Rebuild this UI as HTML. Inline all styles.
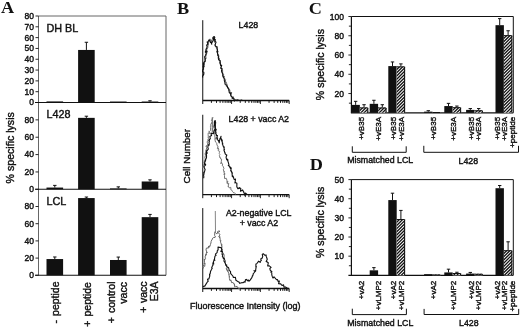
<!DOCTYPE html>
<html><head><meta charset="utf-8"><style>
html,body{margin:0;padding:0;background:#fff;overflow:hidden;width:520px;height:328px;}
svg{display:block;filter:blur(0.3px);}
</style></head><body>
<svg width="520" height="328" viewBox="0 0 520 328">
<rect x="0" y="0" width="520" height="328" fill="#fff"/>
<text transform="translate(1.00,12.60) scale(1.1,1)" font-size="16.6" style="font-family:'Liberation Serif',serif" font-weight="bold" fill="#111">A</text>
<text transform="translate(177.00,13.80) scale(1.1,1)" font-size="16.6" style="font-family:'Liberation Serif',serif" font-weight="bold" fill="#111">B</text>
<text transform="translate(308.70,13.70) scale(1.1,1)" font-size="16.6" style="font-family:'Liberation Serif',serif" font-weight="bold" fill="#111">C</text>
<text transform="translate(309.70,170.40) scale(1.1,1)" font-size="16.6" style="font-family:'Liberation Serif',serif" font-weight="bold" fill="#111">D</text>
<line x1="38.50" y1="16.00" x2="166.00" y2="16.00" stroke="#666" stroke-width="1.0"/>
<line x1="38.50" y1="16.00" x2="38.50" y2="275.30" stroke="#666" stroke-width="1.0"/>
<line x1="166.00" y1="16.00" x2="166.00" y2="275.30" stroke="#666" stroke-width="1.0"/>
<line x1="35.00" y1="102.50" x2="166.00" y2="102.50" stroke="#111" stroke-width="1.1"/>
<line x1="35.00" y1="189.30" x2="166.00" y2="189.30" stroke="#111" stroke-width="1.1"/>
<line x1="35.00" y1="275.30" x2="166.00" y2="275.30" stroke="#111" stroke-width="1.1"/>
<line x1="35.50" y1="102.50" x2="38.50" y2="102.50" stroke="#111" stroke-width="0.9"/>
<text x="34.00" y="105.40" font-size="8.5" text-anchor="end" style="font-family:'Liberation Sans',sans-serif" fill="#111" stroke="#111" stroke-width="0.4">0</text>
<line x1="35.50" y1="91.69" x2="38.50" y2="91.69" stroke="#111" stroke-width="0.9"/>
<text x="34.00" y="94.59" font-size="8.5" text-anchor="end" style="font-family:'Liberation Sans',sans-serif" fill="#111" stroke="#111" stroke-width="0.4">10</text>
<line x1="35.50" y1="80.88" x2="38.50" y2="80.88" stroke="#111" stroke-width="0.9"/>
<text x="34.00" y="83.78" font-size="8.5" text-anchor="end" style="font-family:'Liberation Sans',sans-serif" fill="#111" stroke="#111" stroke-width="0.4">20</text>
<line x1="35.50" y1="70.06" x2="38.50" y2="70.06" stroke="#111" stroke-width="0.9"/>
<text x="34.00" y="72.96" font-size="8.5" text-anchor="end" style="font-family:'Liberation Sans',sans-serif" fill="#111" stroke="#111" stroke-width="0.4">30</text>
<line x1="35.50" y1="59.25" x2="38.50" y2="59.25" stroke="#111" stroke-width="0.9"/>
<text x="34.00" y="62.15" font-size="8.5" text-anchor="end" style="font-family:'Liberation Sans',sans-serif" fill="#111" stroke="#111" stroke-width="0.4">40</text>
<line x1="35.50" y1="48.44" x2="38.50" y2="48.44" stroke="#111" stroke-width="0.9"/>
<text x="34.00" y="51.34" font-size="8.5" text-anchor="end" style="font-family:'Liberation Sans',sans-serif" fill="#111" stroke="#111" stroke-width="0.4">50</text>
<line x1="35.50" y1="37.62" x2="38.50" y2="37.62" stroke="#111" stroke-width="0.9"/>
<text x="34.00" y="40.52" font-size="8.5" text-anchor="end" style="font-family:'Liberation Sans',sans-serif" fill="#111" stroke="#111" stroke-width="0.4">60</text>
<line x1="35.50" y1="26.81" x2="38.50" y2="26.81" stroke="#111" stroke-width="0.9"/>
<text x="34.00" y="29.71" font-size="8.5" text-anchor="end" style="font-family:'Liberation Sans',sans-serif" fill="#111" stroke="#111" stroke-width="0.4">70</text>
<line x1="35.50" y1="16.00" x2="38.50" y2="16.00" stroke="#111" stroke-width="0.9"/>
<text x="34.00" y="18.90" font-size="8.5" text-anchor="end" style="font-family:'Liberation Sans',sans-serif" fill="#111" stroke="#111" stroke-width="0.4">80</text>
<line x1="35.50" y1="189.30" x2="38.50" y2="189.30" stroke="#111" stroke-width="0.9"/>
<text x="34.00" y="192.20" font-size="8.5" text-anchor="end" style="font-family:'Liberation Sans',sans-serif" fill="#111" stroke="#111" stroke-width="0.4">0</text>
<line x1="35.50" y1="171.94" x2="38.50" y2="171.94" stroke="#111" stroke-width="0.9"/>
<text x="34.00" y="174.84" font-size="8.5" text-anchor="end" style="font-family:'Liberation Sans',sans-serif" fill="#111" stroke="#111" stroke-width="0.4">20</text>
<line x1="35.50" y1="154.58" x2="38.50" y2="154.58" stroke="#111" stroke-width="0.9"/>
<text x="34.00" y="157.48" font-size="8.5" text-anchor="end" style="font-family:'Liberation Sans',sans-serif" fill="#111" stroke="#111" stroke-width="0.4">40</text>
<line x1="35.50" y1="137.22" x2="38.50" y2="137.22" stroke="#111" stroke-width="0.9"/>
<text x="34.00" y="140.12" font-size="8.5" text-anchor="end" style="font-family:'Liberation Sans',sans-serif" fill="#111" stroke="#111" stroke-width="0.4">60</text>
<line x1="35.50" y1="119.86" x2="38.50" y2="119.86" stroke="#111" stroke-width="0.9"/>
<text x="34.00" y="122.76" font-size="8.5" text-anchor="end" style="font-family:'Liberation Sans',sans-serif" fill="#111" stroke="#111" stroke-width="0.4">80</text>
<line x1="35.50" y1="275.30" x2="38.50" y2="275.30" stroke="#111" stroke-width="0.9"/>
<text x="34.00" y="278.20" font-size="8.5" text-anchor="end" style="font-family:'Liberation Sans',sans-serif" fill="#111" stroke="#111" stroke-width="0.4">0</text>
<line x1="35.50" y1="258.10" x2="38.50" y2="258.10" stroke="#111" stroke-width="0.9"/>
<text x="34.00" y="261.00" font-size="8.5" text-anchor="end" style="font-family:'Liberation Sans',sans-serif" fill="#111" stroke="#111" stroke-width="0.4">20</text>
<line x1="35.50" y1="240.90" x2="38.50" y2="240.90" stroke="#111" stroke-width="0.9"/>
<text x="34.00" y="243.80" font-size="8.5" text-anchor="end" style="font-family:'Liberation Sans',sans-serif" fill="#111" stroke="#111" stroke-width="0.4">40</text>
<line x1="35.50" y1="223.70" x2="38.50" y2="223.70" stroke="#111" stroke-width="0.9"/>
<text x="34.00" y="226.60" font-size="8.5" text-anchor="end" style="font-family:'Liberation Sans',sans-serif" fill="#111" stroke="#111" stroke-width="0.4">60</text>
<line x1="35.50" y1="206.50" x2="38.50" y2="206.50" stroke="#111" stroke-width="0.9"/>
<text x="34.00" y="209.40" font-size="8.5" text-anchor="end" style="font-family:'Liberation Sans',sans-serif" fill="#111" stroke="#111" stroke-width="0.4">80</text>
<rect x="46.50" y="101.42" width="16.60" height="1.08" fill="#111"/>
<rect x="78.10" y="49.95" width="16.60" height="52.55" fill="#111"/>
<line x1="86.40" y1="49.95" x2="86.40" y2="42.27" stroke="#111" stroke-width="1.0"/>
<line x1="84.70" y1="42.27" x2="88.10" y2="42.27" stroke="#111" stroke-width="1.0"/>
<rect x="110.00" y="101.53" width="16.60" height="0.97" fill="#111"/>
<rect x="141.70" y="101.53" width="16.60" height="0.97" fill="#111"/>
<line x1="150.00" y1="101.53" x2="150.00" y2="100.77" stroke="#111" stroke-width="1.0"/>
<line x1="148.30" y1="100.77" x2="151.70" y2="100.77" stroke="#111" stroke-width="1.0"/>
<rect x="46.50" y="187.56" width="16.60" height="1.74" fill="#111"/>
<line x1="54.80" y1="187.56" x2="54.80" y2="185.39" stroke="#111" stroke-width="1.0"/>
<line x1="53.10" y1="185.39" x2="56.50" y2="185.39" stroke="#111" stroke-width="1.0"/>
<rect x="78.10" y="117.86" width="16.60" height="71.44" fill="#111"/>
<line x1="86.40" y1="117.86" x2="86.40" y2="116.21" stroke="#111" stroke-width="1.0"/>
<line x1="84.70" y1="116.21" x2="88.10" y2="116.21" stroke="#111" stroke-width="1.0"/>
<rect x="110.00" y="188.43" width="16.60" height="0.87" fill="#111"/>
<line x1="118.30" y1="188.43" x2="118.30" y2="186.87" stroke="#111" stroke-width="1.0"/>
<line x1="116.60" y1="186.87" x2="120.00" y2="186.87" stroke="#111" stroke-width="1.0"/>
<rect x="141.70" y="181.49" width="16.60" height="7.81" fill="#111"/>
<line x1="150.00" y1="181.49" x2="150.00" y2="179.84" stroke="#111" stroke-width="1.0"/>
<line x1="148.30" y1="179.84" x2="151.70" y2="179.84" stroke="#111" stroke-width="1.0"/>
<rect x="46.50" y="259.05" width="16.60" height="16.25" fill="#111"/>
<line x1="54.80" y1="259.05" x2="54.80" y2="256.98" stroke="#111" stroke-width="1.0"/>
<line x1="53.10" y1="256.98" x2="56.50" y2="256.98" stroke="#111" stroke-width="1.0"/>
<rect x="78.10" y="198.07" width="16.60" height="77.23" fill="#111"/>
<line x1="86.40" y1="198.07" x2="86.40" y2="197.04" stroke="#111" stroke-width="1.0"/>
<line x1="84.70" y1="197.04" x2="88.10" y2="197.04" stroke="#111" stroke-width="1.0"/>
<rect x="110.00" y="259.99" width="16.60" height="15.31" fill="#111"/>
<line x1="118.30" y1="259.99" x2="118.30" y2="257.07" stroke="#111" stroke-width="1.0"/>
<line x1="116.60" y1="257.07" x2="120.00" y2="257.07" stroke="#111" stroke-width="1.0"/>
<rect x="141.70" y="217.16" width="16.60" height="58.14" fill="#111"/>
<line x1="150.00" y1="217.16" x2="150.00" y2="214.41" stroke="#111" stroke-width="1.0"/>
<line x1="148.30" y1="214.41" x2="151.70" y2="214.41" stroke="#111" stroke-width="1.0"/>
<text x="46.50" y="31.50" font-size="10.8" text-anchor="start" style="font-family:'Liberation Sans',sans-serif" fill="#111" stroke="#111" stroke-width="0.4">DH BL</text>
<text x="46.50" y="118.20" font-size="10.8" text-anchor="start" style="font-family:'Liberation Sans',sans-serif" fill="#111" stroke="#111" stroke-width="0.4">L428</text>
<text x="46.50" y="204.90" font-size="10.8" text-anchor="start" style="font-family:'Liberation Sans',sans-serif" fill="#111" stroke="#111" stroke-width="0.4">LCL</text>
<text transform="translate(59.20,281.50) rotate(-90)" font-size="10.5" text-anchor="end" style="font-family:'Liberation Sans',sans-serif" fill="#111" stroke="#111" stroke-width="0.4" word-spacing="1.2">- peptide</text>
<text transform="translate(91.20,282.10) rotate(-90)" font-size="10.5" text-anchor="end" style="font-family:'Liberation Sans',sans-serif" fill="#111" stroke="#111" stroke-width="0.4" word-spacing="1.2">+ peptide</text>
<text transform="translate(114.80,281.50) rotate(-90)" font-size="10.5" text-anchor="end" style="font-family:'Liberation Sans',sans-serif" fill="#111" stroke="#111" stroke-width="0.4" word-spacing="1.2">+ control</text>
<text transform="translate(126.60,282.10) rotate(-90)" font-size="10.5" text-anchor="end" style="font-family:'Liberation Sans',sans-serif" fill="#111" stroke="#111" stroke-width="0.4">vacc</text>
<text transform="translate(147.00,281.50) rotate(-90)" font-size="10.5" text-anchor="end" style="font-family:'Liberation Sans',sans-serif" fill="#111" stroke="#111" stroke-width="0.4" word-spacing="0.6">+ vacc</text>
<text transform="translate(158.30,281.50) rotate(-90)" font-size="10.5" text-anchor="end" style="font-family:'Liberation Sans',sans-serif" fill="#111" stroke="#111" stroke-width="0.4">E3A</text>
<text transform="translate(13.70,147.80) rotate(-90)" font-size="10.6" text-anchor="middle" style="font-family:'Liberation Sans',sans-serif" fill="#111" stroke="#111" stroke-width="0.4">% specific lysis</text>
<line x1="202.75" y1="20.20" x2="202.75" y2="104.00" stroke="#111" stroke-width="1.0"/>
<line x1="202.75" y1="100.50" x2="289.20" y2="100.50" stroke="#111" stroke-width="1.3"/>
<line x1="211.42" y1="100.50" x2="211.42" y2="102.90" stroke="#111" stroke-width="0.95"/>
<line x1="216.50" y1="100.50" x2="216.50" y2="102.90" stroke="#111" stroke-width="0.95"/>
<line x1="220.10" y1="100.50" x2="220.10" y2="102.90" stroke="#111" stroke-width="0.95"/>
<line x1="222.89" y1="100.50" x2="222.89" y2="102.90" stroke="#111" stroke-width="0.95"/>
<line x1="225.17" y1="100.50" x2="225.17" y2="102.90" stroke="#111" stroke-width="0.95"/>
<line x1="227.10" y1="100.50" x2="227.10" y2="102.90" stroke="#111" stroke-width="0.95"/>
<line x1="228.77" y1="100.50" x2="228.77" y2="102.90" stroke="#111" stroke-width="0.95"/>
<line x1="230.25" y1="100.50" x2="230.25" y2="102.90" stroke="#111" stroke-width="0.95"/>
<line x1="231.57" y1="100.50" x2="231.57" y2="104.00" stroke="#111" stroke-width="0.9"/>
<line x1="240.24" y1="100.50" x2="240.24" y2="102.90" stroke="#111" stroke-width="0.95"/>
<line x1="245.32" y1="100.50" x2="245.32" y2="102.90" stroke="#111" stroke-width="0.95"/>
<line x1="248.92" y1="100.50" x2="248.92" y2="102.90" stroke="#111" stroke-width="0.95"/>
<line x1="251.71" y1="100.50" x2="251.71" y2="102.90" stroke="#111" stroke-width="0.95"/>
<line x1="253.99" y1="100.50" x2="253.99" y2="102.90" stroke="#111" stroke-width="0.95"/>
<line x1="255.92" y1="100.50" x2="255.92" y2="102.90" stroke="#111" stroke-width="0.95"/>
<line x1="257.59" y1="100.50" x2="257.59" y2="102.90" stroke="#111" stroke-width="0.95"/>
<line x1="259.06" y1="100.50" x2="259.06" y2="102.90" stroke="#111" stroke-width="0.95"/>
<line x1="260.38" y1="100.50" x2="260.38" y2="104.00" stroke="#111" stroke-width="0.9"/>
<line x1="269.06" y1="100.50" x2="269.06" y2="102.90" stroke="#111" stroke-width="0.95"/>
<line x1="274.13" y1="100.50" x2="274.13" y2="102.90" stroke="#111" stroke-width="0.95"/>
<line x1="277.73" y1="100.50" x2="277.73" y2="102.90" stroke="#111" stroke-width="0.95"/>
<line x1="280.53" y1="100.50" x2="280.53" y2="102.90" stroke="#111" stroke-width="0.95"/>
<line x1="282.81" y1="100.50" x2="282.81" y2="102.90" stroke="#111" stroke-width="0.95"/>
<line x1="284.74" y1="100.50" x2="284.74" y2="102.90" stroke="#111" stroke-width="0.95"/>
<line x1="286.41" y1="100.50" x2="286.41" y2="102.90" stroke="#111" stroke-width="0.95"/>
<line x1="287.88" y1="100.50" x2="287.88" y2="102.90" stroke="#111" stroke-width="0.95"/>
<line x1="289.20" y1="100.50" x2="289.20" y2="104.00" stroke="#111" stroke-width="0.9"/>
<line x1="202.75" y1="114.75" x2="202.75" y2="198.20" stroke="#111" stroke-width="1.0"/>
<line x1="202.75" y1="194.70" x2="289.20" y2="194.70" stroke="#111" stroke-width="1.3"/>
<line x1="211.42" y1="194.70" x2="211.42" y2="197.10" stroke="#111" stroke-width="0.95"/>
<line x1="216.50" y1="194.70" x2="216.50" y2="197.10" stroke="#111" stroke-width="0.95"/>
<line x1="220.10" y1="194.70" x2="220.10" y2="197.10" stroke="#111" stroke-width="0.95"/>
<line x1="222.89" y1="194.70" x2="222.89" y2="197.10" stroke="#111" stroke-width="0.95"/>
<line x1="225.17" y1="194.70" x2="225.17" y2="197.10" stroke="#111" stroke-width="0.95"/>
<line x1="227.10" y1="194.70" x2="227.10" y2="197.10" stroke="#111" stroke-width="0.95"/>
<line x1="228.77" y1="194.70" x2="228.77" y2="197.10" stroke="#111" stroke-width="0.95"/>
<line x1="230.25" y1="194.70" x2="230.25" y2="197.10" stroke="#111" stroke-width="0.95"/>
<line x1="231.57" y1="194.70" x2="231.57" y2="198.20" stroke="#111" stroke-width="0.9"/>
<line x1="240.24" y1="194.70" x2="240.24" y2="197.10" stroke="#111" stroke-width="0.95"/>
<line x1="245.32" y1="194.70" x2="245.32" y2="197.10" stroke="#111" stroke-width="0.95"/>
<line x1="248.92" y1="194.70" x2="248.92" y2="197.10" stroke="#111" stroke-width="0.95"/>
<line x1="251.71" y1="194.70" x2="251.71" y2="197.10" stroke="#111" stroke-width="0.95"/>
<line x1="253.99" y1="194.70" x2="253.99" y2="197.10" stroke="#111" stroke-width="0.95"/>
<line x1="255.92" y1="194.70" x2="255.92" y2="197.10" stroke="#111" stroke-width="0.95"/>
<line x1="257.59" y1="194.70" x2="257.59" y2="197.10" stroke="#111" stroke-width="0.95"/>
<line x1="259.06" y1="194.70" x2="259.06" y2="197.10" stroke="#111" stroke-width="0.95"/>
<line x1="260.38" y1="194.70" x2="260.38" y2="198.20" stroke="#111" stroke-width="0.9"/>
<line x1="269.06" y1="194.70" x2="269.06" y2="197.10" stroke="#111" stroke-width="0.95"/>
<line x1="274.13" y1="194.70" x2="274.13" y2="197.10" stroke="#111" stroke-width="0.95"/>
<line x1="277.73" y1="194.70" x2="277.73" y2="197.10" stroke="#111" stroke-width="0.95"/>
<line x1="280.53" y1="194.70" x2="280.53" y2="197.10" stroke="#111" stroke-width="0.95"/>
<line x1="282.81" y1="194.70" x2="282.81" y2="197.10" stroke="#111" stroke-width="0.95"/>
<line x1="284.74" y1="194.70" x2="284.74" y2="197.10" stroke="#111" stroke-width="0.95"/>
<line x1="286.41" y1="194.70" x2="286.41" y2="197.10" stroke="#111" stroke-width="0.95"/>
<line x1="287.88" y1="194.70" x2="287.88" y2="197.10" stroke="#111" stroke-width="0.95"/>
<line x1="289.20" y1="194.70" x2="289.20" y2="198.20" stroke="#111" stroke-width="0.9"/>
<line x1="202.75" y1="208.10" x2="202.75" y2="292.00" stroke="#111" stroke-width="1.0"/>
<line x1="202.75" y1="288.50" x2="289.20" y2="288.50" stroke="#111" stroke-width="1.3"/>
<line x1="211.42" y1="288.50" x2="211.42" y2="290.90" stroke="#111" stroke-width="0.95"/>
<line x1="216.50" y1="288.50" x2="216.50" y2="290.90" stroke="#111" stroke-width="0.95"/>
<line x1="220.10" y1="288.50" x2="220.10" y2="290.90" stroke="#111" stroke-width="0.95"/>
<line x1="222.89" y1="288.50" x2="222.89" y2="290.90" stroke="#111" stroke-width="0.95"/>
<line x1="225.17" y1="288.50" x2="225.17" y2="290.90" stroke="#111" stroke-width="0.95"/>
<line x1="227.10" y1="288.50" x2="227.10" y2="290.90" stroke="#111" stroke-width="0.95"/>
<line x1="228.77" y1="288.50" x2="228.77" y2="290.90" stroke="#111" stroke-width="0.95"/>
<line x1="230.25" y1="288.50" x2="230.25" y2="290.90" stroke="#111" stroke-width="0.95"/>
<line x1="231.57" y1="288.50" x2="231.57" y2="292.00" stroke="#111" stroke-width="0.9"/>
<line x1="240.24" y1="288.50" x2="240.24" y2="290.90" stroke="#111" stroke-width="0.95"/>
<line x1="245.32" y1="288.50" x2="245.32" y2="290.90" stroke="#111" stroke-width="0.95"/>
<line x1="248.92" y1="288.50" x2="248.92" y2="290.90" stroke="#111" stroke-width="0.95"/>
<line x1="251.71" y1="288.50" x2="251.71" y2="290.90" stroke="#111" stroke-width="0.95"/>
<line x1="253.99" y1="288.50" x2="253.99" y2="290.90" stroke="#111" stroke-width="0.95"/>
<line x1="255.92" y1="288.50" x2="255.92" y2="290.90" stroke="#111" stroke-width="0.95"/>
<line x1="257.59" y1="288.50" x2="257.59" y2="290.90" stroke="#111" stroke-width="0.95"/>
<line x1="259.06" y1="288.50" x2="259.06" y2="290.90" stroke="#111" stroke-width="0.95"/>
<line x1="260.38" y1="288.50" x2="260.38" y2="292.00" stroke="#111" stroke-width="0.9"/>
<line x1="269.06" y1="288.50" x2="269.06" y2="290.90" stroke="#111" stroke-width="0.95"/>
<line x1="274.13" y1="288.50" x2="274.13" y2="290.90" stroke="#111" stroke-width="0.95"/>
<line x1="277.73" y1="288.50" x2="277.73" y2="290.90" stroke="#111" stroke-width="0.95"/>
<line x1="280.53" y1="288.50" x2="280.53" y2="290.90" stroke="#111" stroke-width="0.95"/>
<line x1="282.81" y1="288.50" x2="282.81" y2="290.90" stroke="#111" stroke-width="0.95"/>
<line x1="284.74" y1="288.50" x2="284.74" y2="290.90" stroke="#111" stroke-width="0.95"/>
<line x1="286.41" y1="288.50" x2="286.41" y2="290.90" stroke="#111" stroke-width="0.95"/>
<line x1="287.88" y1="288.50" x2="287.88" y2="290.90" stroke="#111" stroke-width="0.95"/>
<line x1="289.20" y1="288.50" x2="289.20" y2="292.00" stroke="#111" stroke-width="0.9"/>
<text x="248.40" y="27.80" font-size="8.8" text-anchor="middle" style="font-family:'Liberation Sans',sans-serif" fill="#111" stroke="#111" stroke-width="0.4">L428</text>
<text x="258.80" y="122.00" font-size="8.8" text-anchor="middle" style="font-family:'Liberation Sans',sans-serif" fill="#111" stroke="#111" stroke-width="0.4">L428 + vacc A2</text>
<text x="258.70" y="215.90" font-size="8.8" text-anchor="middle" style="font-family:'Liberation Sans',sans-serif" fill="#111" stroke="#111" stroke-width="0.4">A2-negative LCL</text>
<text x="258.90" y="226.40" font-size="8.8" text-anchor="middle" style="font-family:'Liberation Sans',sans-serif" fill="#111" stroke="#111" stroke-width="0.4">+ vacc A2</text>
<text transform="translate(189.80,156.20) rotate(-90)" font-size="9.8" text-anchor="middle" style="font-family:'Liberation Sans',sans-serif" fill="#111" stroke="#111" stroke-width="0.4">Cell Number</text>
<text x="190.00" y="308.60" font-size="9.0" text-anchor="start" style="font-family:'Liberation Sans',sans-serif" fill="#111" stroke="#111" stroke-width="0.4">Fluorescence Intensity (log)</text>
<polyline points="202.79,72.11 203.10,71.27 203.60,68.87 202.74,69.88 203.22,67.31 204.47,66.92 204.32,65.94 204.22,64.09 204.41,64.96 204.44,63.63 204.87,60.87 205.25,61.24 204.79,58.78 205.92,58.93 205.94,58.98 206.09,58.09 205.76,56.78 205.99,56.13 206.83,52.95 205.83,52.26 207.26,51.83 206.86,50.48 206.81,49.70 206.70,49.22 207.20,49.05 207.48,48.12 207.92,47.28 207.79,44.12 208.24,45.21 208.47,43.18 208.33,41.25 209.52,40.69 209.96,38.86 211.30,42.27 210.56,42.78 211.43,40.09 211.61,40.70 212.88,37.81 213.03,36.82 213.74,36.56 214.49,39.50 214.41,40.80 214.35,39.53 215.06,40.53 214.68,42.64 215.57,43.11 215.02,45.96 215.78,47.19 217.02,46.68 216.56,48.18 217.07,49.50 217.17,50.69 217.99,51.52 217.42,53.20 217.34,53.23 218.72,54.93 218.28,54.73 218.32,57.21 217.95,58.30 219.16,57.86 219.40,59.91 219.81,60.78 220.19,62.95 219.45,62.36 220.81,65.87 220.48,65.72 221.34,66.53 221.24,67.64 221.50,69.50 221.64,70.06 222.62,70.27 222.63,73.24 222.55,73.03 223.65,74.20 223.01,75.83 224.21,76.06 224.02,77.77 225.22,79.14 225.65,79.54 225.25,81.89 226.50,82.37 225.87,82.51 226.75,83.70 227.58,86.38 227.01,85.92 228.48,87.87 228.98,88.10 228.42,88.96 229.96,89.91 229.76,91.28 230.37,92.26 231.66,92.61 230.73,95.65 232.52,96.77 232.25,97.67 233.44,96.78 233.58,99.38 234.35,99.40 235.00,100.20" fill="none" stroke="#666" stroke-width="1.0" stroke-opacity="1.0" stroke-linejoin="round"/>
<polyline points="202.67,77.59 202.61,75.88 203.21,75.45 203.60,73.82 203.78,74.50 203.85,74.03 203.85,72.20 202.50,71.64 202.79,69.48 203.60,69.06 203.27,69.14 203.62,66.59 203.11,66.94 203.51,65.73 203.37,63.21 203.95,63.66 203.69,62.43 205.16,61.30 205.25,58.17 205.20,59.34 204.55,56.76 205.14,56.37 205.55,55.18 206.26,52.90 205.31,52.18 205.58,50.98 207.07,51.97 205.85,50.01 206.38,48.52 206.60,48.38 207.14,46.64 206.68,45.55 206.75,45.14 207.84,43.69 207.12,42.04 207.85,42.02 208.77,40.31 209.07,39.82 209.19,39.92 209.99,41.53 210.44,42.40 211.07,42.14 211.76,44.21 211.40,42.27 212.32,42.22 213.48,39.67 213.72,39.66 213.03,37.71 213.11,37.51 214.25,36.61 214.66,37.12 214.76,37.93 213.98,39.07 214.03,38.99 215.43,39.82 214.61,40.96 216.09,42.17 215.01,44.89 215.41,45.89 216.47,46.87 217.11,47.21 217.07,46.79 217.22,49.03 217.36,48.98 217.64,52.13 216.79,51.54 217.80,53.85 217.52,53.29 217.76,55.55 218.77,56.10 218.39,57.23 218.67,58.45 218.55,59.83 220.24,60.77 220.15,61.12 220.33,63.67 220.57,64.04 220.67,65.52 221.72,65.39 220.70,68.18 222.22,68.81 221.71,70.57 221.51,70.40 221.73,72.22 222.11,72.30 222.90,75.18 222.63,75.66 223.16,77.17 223.78,76.77 223.56,77.26 224.37,79.30 224.29,80.34 224.92,82.51 225.04,84.18 225.97,84.26 226.45,85.99 227.50,86.40 227.47,87.95 228.56,88.24 228.86,90.70 228.95,89.80 229.09,92.07 230.27,93.69 231.05,92.83 230.52,93.87 231.01,96.03 232.56,97.54 232.12,98.38 232.71,98.17 233.86,98.22 234.36,101.07 235.68,99.84 237.13,100.68 237.23,99.81 238.90,100.22 239.55,100.49 241.71,100.00 242.00,100.30" fill="none" stroke="#111" stroke-width="1.1" stroke-opacity="1.0" stroke-linejoin="round"/>
<polyline points="203.28,166.86 202.94,167.50 202.79,167.16 204.36,163.79 204.57,163.62 204.40,163.77 203.69,162.53 204.48,161.92 203.94,160.76 205.36,159.52 204.77,156.84 204.86,156.56 205.43,156.54 205.32,154.05 205.63,154.39 204.96,154.17 205.98,150.87 206.64,149.92 205.73,150.66 206.38,149.16 206.67,147.77 206.26,145.83 206.02,146.35 207.46,144.73 207.63,143.08 206.98,142.05 208.27,139.93 207.81,139.44 208.48,138.66 207.90,137.71 208.47,137.82 208.34,137.04 208.10,134.31 208.28,132.84 209.70,133.68 208.91,130.94 209.60,131.48 210.59,130.37 210.47,127.44 210.39,126.46 210.90,126.46 210.59,124.38 211.91,122.59 212.08,124.09 212.48,121.48 211.89,121.00 212.17,121.10 212.40,117.98 212.85,117.45 212.43,119.22 211.40,120.39 212.64,120.60 212.44,121.55 211.90,122.80 211.67,123.75 212.81,124.62 212.72,127.21 213.36,125.78 213.23,128.29 211.94,128.54 212.32,128.73 213.07,132.29 212.88,133.11 213.75,131.90 214.24,134.30 214.70,135.65 214.70,135.53 215.15,138.30 215.55,137.81 215.66,138.96 214.80,138.63 215.04,140.10 215.59,142.16 216.96,143.45 216.86,144.95 216.95,145.39 218.06,146.20 217.33,148.70 218.60,148.10 218.27,149.59 218.92,149.67 218.10,150.63 219.76,151.43 219.43,152.59 219.23,153.51 219.83,154.50 219.40,155.33 219.90,157.47 219.96,157.07 220.91,159.22 221.62,159.15 221.33,161.19 220.90,163.90 221.49,162.28 222.20,163.49 222.72,165.04 222.07,165.16 223.41,166.83 223.73,168.40 224.21,168.90 223.20,169.80 224.43,171.89 223.80,171.28 224.63,174.91 224.73,173.15 223.97,174.55 224.49,175.53 224.54,178.52 226.32,178.30 226.92,180.23 227.08,182.65 227.79,181.10 227.15,183.82 228.80,183.26 228.13,186.55 228.31,186.10 229.20,187.91 230.77,187.32 230.96,189.97 231.67,190.39 232.36,190.79 232.40,191.39 234.00,193.14 234.34,192.81 236.00,194.40" fill="none" stroke="#777" stroke-width="1.0" stroke-opacity="1.0" stroke-linejoin="round"/>
<polyline points="203.70,178.32 203.80,176.66 203.53,174.96 204.05,173.57 203.74,174.78 204.24,171.79 203.58,173.03 204.43,172.14 204.97,169.85 205.16,169.70 204.29,167.61 203.96,166.70 205.69,164.81 205.14,163.83 204.40,164.45 204.83,161.65 204.84,162.43 205.79,159.53 205.31,161.40 205.46,159.19 205.99,158.84 206.49,157.87 206.53,155.06 206.05,153.74 207.39,152.84 206.11,154.40 206.59,153.18 206.55,150.90 207.00,150.99 207.91,149.43 208.37,149.12 207.82,147.31 208.20,144.83 209.10,145.28 209.27,143.12 208.97,142.89 209.51,140.73 209.02,140.95 208.78,140.16 210.22,138.77 210.32,138.32 209.79,136.55 211.59,135.51 210.98,133.75 210.99,133.00 212.93,133.68 213.47,133.46 213.70,132.29 214.26,129.76 215.12,130.13 215.23,127.80 215.03,126.49 215.54,126.95 214.38,125.91 214.30,122.32 215.38,121.84 215.12,121.80 214.37,121.04 214.86,121.17 215.04,123.17 215.82,122.87 214.73,123.98 215.34,124.38 214.94,127.51 215.98,129.22 216.54,129.99 215.51,128.91 215.46,130.89 216.01,132.13 215.87,134.06 215.89,133.89 217.14,135.92 216.24,135.23 217.49,135.53 216.60,138.09 217.66,138.00 217.04,139.11 218.59,140.90 219.21,142.86 219.46,141.61 218.53,140.54 219.48,140.51 219.69,140.14 220.00,138.43 220.51,138.91 221.05,136.28 220.54,137.79 221.75,139.53 222.42,140.93 221.39,139.91 222.46,142.87 222.35,143.99 222.76,143.34 222.40,143.55 223.51,147.19 224.23,146.90 224.05,149.29 224.57,149.31 224.10,150.06 223.91,150.05 225.13,153.48 225.18,152.72 225.13,153.86 226.25,154.86 226.83,154.97 226.04,157.19 226.59,159.30 227.71,160.67 227.70,159.09 228.01,161.77 228.23,162.09 229.00,165.11 228.28,165.51 229.14,166.04 230.46,168.38 230.38,167.09 231.26,168.04 230.66,170.98 230.92,170.31 232.43,173.33 231.67,172.68 232.01,173.06 232.35,176.77 232.44,175.69 233.09,176.24 234.11,179.23 235.11,179.89 235.51,179.08 234.97,183.02 235.02,182.00 236.27,182.94 236.88,183.21 236.82,186.87 237.23,187.55 237.85,188.65 239.31,188.44 239.02,187.43 240.80,188.56 240.44,191.27 242.67,189.95 243.83,192.40 243.79,191.87 244.80,195.26 245.61,193.04 247.00,194.50" fill="none" stroke="#111" stroke-width="1.1" stroke-opacity="1.0" stroke-linejoin="round"/>
<line x1="212.20" y1="132.00" x2="212.20" y2="117.30" stroke="#777" stroke-width="0.9"/>
<line x1="215.20" y1="134.00" x2="215.20" y2="120.00" stroke="#111" stroke-width="1.0"/>
<polyline points="202.62,266.81 203.22,268.27 202.89,264.89 204.74,266.41 205.02,262.95 204.02,264.14 204.45,262.21 204.30,258.89 204.54,260.07 205.56,258.36 205.13,257.12 205.26,256.11 206.19,254.04 205.91,255.38 206.57,251.97 207.16,252.92 206.00,249.92 206.43,248.07 208.67,247.96 209.22,245.77 207.97,247.18 209.86,246.57 210.46,244.58 211.16,241.95 211.28,241.81 211.02,241.32 211.86,240.02 212.96,237.82 213.43,237.52 215.12,237.40 215.30,236.07 214.59,235.53 214.86,231.79 215.60,232.74 216.19,233.46 217.08,233.79 218.01,231.03 218.76,231.10 219.81,231.01 218.95,232.32 218.41,232.72 220.09,234.87 218.75,236.13 219.56,237.72 219.70,236.45 220.23,239.77 220.19,240.90 220.91,240.46 220.42,242.12 220.91,242.89 221.69,245.70 221.86,244.57 221.34,246.35 222.28,246.67 221.44,248.31 222.00,248.43 222.67,252.35 222.85,252.76 223.59,254.08 223.93,253.81 223.67,253.79 224.23,255.61 223.70,258.25 223.59,257.01 224.87,259.32 223.70,258.49 224.46,259.42 225.64,260.99 224.82,262.64 225.52,263.78 226.11,265.68 226.11,265.04 227.52,268.11 226.17,268.48 227.82,271.41 226.87,269.43 228.09,271.92 229.32,274.38 228.68,274.24 229.56,276.90 229.23,276.49 229.41,278.45 229.74,280.37 231.15,280.19 230.75,280.07 231.94,283.04 232.82,282.26 234.43,284.52 234.30,283.80 234.61,286.78 235.30,286.35 237.23,286.54 238.52,288.68 239.69,288.49 240.00,288.10" fill="none" stroke="#666" stroke-width="1.0" stroke-opacity="1.0" stroke-linejoin="round"/>
<polyline points="202.80,286.77 204.39,285.97 204.74,286.29 205.52,284.90 207.49,281.69 208.19,281.21 207.52,279.46 207.72,279.16 208.81,278.98 209.93,275.63 209.58,275.44 209.58,273.93 210.10,274.04 210.53,271.31 210.63,271.14 211.51,269.49 212.04,268.30 212.29,268.31 211.71,267.70 212.32,266.11 212.91,265.36 212.90,262.76 213.73,264.01 213.48,262.22 213.36,262.12 214.31,259.22 214.87,260.36 214.41,259.39 214.97,256.10 215.70,255.55 216.06,255.23 215.34,254.08 217.09,252.69 217.07,252.52 217.41,250.23 218.14,249.91 218.00,246.96 219.44,247.35 219.47,247.50 221.25,247.62 221.82,249.69 221.82,249.42 220.84,251.50 222.33,251.58 222.16,253.19 222.05,254.55 222.84,254.68 222.34,256.15 223.03,257.63 223.12,257.70 223.49,258.74 224.46,258.90 223.92,260.95 224.50,262.01 224.84,261.88 225.86,265.18 226.82,265.04 226.53,264.95 226.82,266.81 228.44,267.43 229.10,269.68 228.89,270.33 230.53,271.37 230.62,273.53 230.75,273.57 232.82,276.01 233.39,277.23 233.33,277.57 235.42,277.23 235.93,280.33 236.71,280.73 237.44,281.47 238.61,281.67 239.79,283.34 241.76,282.66 243.01,282.80 244.36,281.82 245.07,282.24 245.48,279.60 245.78,280.13 246.52,279.32 247.47,280.77 248.52,281.04 248.19,280.02 249.55,280.99 251.21,278.47 250.47,279.69 251.98,277.34 252.52,275.44 252.73,275.93 253.37,273.55 253.11,273.97 254.90,271.74 253.95,270.71 255.78,270.69 255.46,271.25 255.95,268.07 256.34,266.21 255.87,267.02 255.91,264.02 256.73,263.72 258.14,261.73 258.51,261.19 259.56,262.00 260.38,262.31 260.04,261.71 261.40,260.45 260.85,259.68 261.02,258.44 262.22,258.13 262.73,256.28 262.23,254.41 263.23,253.75 265.02,255.34 266.04,254.88 266.24,256.39 266.37,256.66 266.38,256.78 267.27,259.20 266.18,261.59 267.06,261.95 266.90,261.75 268.27,262.80 267.64,266.06 267.67,265.60 269.32,265.89 271.11,267.36 269.87,268.51 270.14,270.16 271.88,271.69 270.78,272.03 271.50,272.45 271.78,272.97 271.78,274.85 272.41,276.93 273.03,278.07 273.98,276.73 275.81,278.92 276.75,279.79 277.42,279.53 278.19,281.58 279.38,281.02 278.57,283.74 280.72,283.88 281.49,284.97 282.08,285.40 283.57,284.88 284.01,287.30 284.86,286.99 285.79,287.10 287.60,288.53 288.50,288.20" fill="none" stroke="#111" stroke-width="1.1" stroke-opacity="1.0" stroke-linejoin="round"/>
<line x1="215.50" y1="232.00" x2="215.30" y2="211.00" stroke="#777" stroke-width="0.9"/>
<line x1="351.40" y1="16.50" x2="513.30" y2="16.50" stroke="#111" stroke-width="1.0"/>
<line x1="351.40" y1="16.50" x2="351.40" y2="112.80" stroke="#111" stroke-width="1.2"/>
<line x1="513.30" y1="16.50" x2="513.30" y2="112.80" stroke="#111" stroke-width="1.0"/>
<line x1="350.90" y1="112.80" x2="513.30" y2="112.80" stroke="#111" stroke-width="1.2"/>
<line x1="348.40" y1="93.54" x2="351.40" y2="93.54" stroke="#111" stroke-width="0.9"/>
<text x="344.00" y="96.54" font-size="8.5" text-anchor="end" style="font-family:'Liberation Sans',sans-serif" fill="#111" stroke="#111" stroke-width="0.4">20</text>
<line x1="348.40" y1="74.28" x2="351.40" y2="74.28" stroke="#111" stroke-width="0.9"/>
<text x="344.00" y="77.28" font-size="8.5" text-anchor="end" style="font-family:'Liberation Sans',sans-serif" fill="#111" stroke="#111" stroke-width="0.4">40</text>
<line x1="348.40" y1="55.02" x2="351.40" y2="55.02" stroke="#111" stroke-width="0.9"/>
<text x="344.00" y="58.02" font-size="8.5" text-anchor="end" style="font-family:'Liberation Sans',sans-serif" fill="#111" stroke="#111" stroke-width="0.4">60</text>
<line x1="348.40" y1="35.76" x2="351.40" y2="35.76" stroke="#111" stroke-width="0.9"/>
<text x="344.00" y="38.76" font-size="8.5" text-anchor="end" style="font-family:'Liberation Sans',sans-serif" fill="#111" stroke="#111" stroke-width="0.4">80</text>
<line x1="348.40" y1="16.50" x2="351.40" y2="16.50" stroke="#111" stroke-width="0.9"/>
<text x="344.00" y="19.50" font-size="8.5" text-anchor="end" style="font-family:'Liberation Sans',sans-serif" fill="#111" stroke="#111" stroke-width="0.4">100</text>
<line x1="348.90" y1="103.17" x2="351.40" y2="103.17" stroke="#111" stroke-width="0.9"/>
<line x1="348.90" y1="83.91" x2="351.40" y2="83.91" stroke="#111" stroke-width="0.9"/>
<line x1="348.90" y1="64.65" x2="351.40" y2="64.65" stroke="#111" stroke-width="0.9"/>
<line x1="348.90" y1="45.39" x2="351.40" y2="45.39" stroke="#111" stroke-width="0.9"/>
<line x1="348.90" y1="26.13" x2="351.40" y2="26.13" stroke="#111" stroke-width="0.9"/>
<rect x="351.45" y="104.90" width="8.40" height="7.90" fill="#111"/>
<clipPath id="hc1"><rect x="359.85" y="107.41" width="8.40" height="5.39"/></clipPath>
<rect x="359.85" y="107.41" width="8.40" height="5.39" fill="#fff"/>
<g clip-path="url(#hc1)" stroke="#111" stroke-width="1.3">
<line x1="358.85" y1="108.41" x2="369.25" y2="98.01"/>
<line x1="358.85" y1="111.61" x2="369.25" y2="101.21"/>
<line x1="358.85" y1="114.81" x2="369.25" y2="104.41"/>
<line x1="358.85" y1="118.01" x2="369.25" y2="107.61"/>
<line x1="358.85" y1="121.21" x2="369.25" y2="110.81"/>
<line x1="358.85" y1="124.41" x2="369.25" y2="114.01"/>
<line x1="358.85" y1="127.61" x2="369.25" y2="117.21"/>
<line x1="358.85" y1="130.81" x2="369.25" y2="120.41"/>
</g>
<polyline points="359.85,107.91 367.75,107.91 367.75,112.80" fill="none" stroke="#111" stroke-width="1"/>
<line x1="355.65" y1="104.90" x2="355.65" y2="101.34" stroke="#111" stroke-width="1.0"/>
<line x1="353.95" y1="101.34" x2="357.35" y2="101.34" stroke="#111" stroke-width="1.0"/>
<line x1="364.05" y1="107.41" x2="364.05" y2="104.71" stroke="#111" stroke-width="1.0"/>
<line x1="362.35" y1="104.71" x2="365.75" y2="104.71" stroke="#111" stroke-width="1.0"/>
<rect x="369.70" y="103.84" width="8.40" height="8.96" fill="#111"/>
<clipPath id="hc2"><rect x="378.10" y="107.50" width="8.40" height="5.30"/></clipPath>
<rect x="378.10" y="107.50" width="8.40" height="5.30" fill="#fff"/>
<g clip-path="url(#hc2)" stroke="#111" stroke-width="1.3">
<line x1="377.10" y1="108.50" x2="387.50" y2="98.10"/>
<line x1="377.10" y1="111.70" x2="387.50" y2="101.30"/>
<line x1="377.10" y1="114.90" x2="387.50" y2="104.50"/>
<line x1="377.10" y1="118.10" x2="387.50" y2="107.70"/>
<line x1="377.10" y1="121.30" x2="387.50" y2="110.90"/>
<line x1="377.10" y1="124.50" x2="387.50" y2="114.10"/>
<line x1="377.10" y1="127.70" x2="387.50" y2="117.30"/>
<line x1="377.10" y1="130.90" x2="387.50" y2="120.50"/>
</g>
<polyline points="378.10,108.00 386.00,108.00 386.00,112.80" fill="none" stroke="#111" stroke-width="1"/>
<line x1="373.90" y1="103.84" x2="373.90" y2="100.28" stroke="#111" stroke-width="1.0"/>
<line x1="372.20" y1="100.28" x2="375.60" y2="100.28" stroke="#111" stroke-width="1.0"/>
<line x1="382.30" y1="107.50" x2="382.30" y2="104.71" stroke="#111" stroke-width="1.0"/>
<line x1="380.60" y1="104.71" x2="384.00" y2="104.71" stroke="#111" stroke-width="1.0"/>
<rect x="388.30" y="66.09" width="8.40" height="46.71" fill="#111"/>
<clipPath id="hc3"><rect x="396.70" y="66.38" width="8.40" height="46.42"/></clipPath>
<rect x="396.70" y="66.38" width="8.40" height="46.42" fill="#fff"/>
<g clip-path="url(#hc3)" stroke="#111" stroke-width="1.3">
<line x1="395.70" y1="67.38" x2="406.10" y2="56.98"/>
<line x1="395.70" y1="70.58" x2="406.10" y2="60.18"/>
<line x1="395.70" y1="73.78" x2="406.10" y2="63.38"/>
<line x1="395.70" y1="76.98" x2="406.10" y2="66.58"/>
<line x1="395.70" y1="80.18" x2="406.10" y2="69.78"/>
<line x1="395.70" y1="83.38" x2="406.10" y2="72.98"/>
<line x1="395.70" y1="86.58" x2="406.10" y2="76.18"/>
<line x1="395.70" y1="89.78" x2="406.10" y2="79.38"/>
<line x1="395.70" y1="92.98" x2="406.10" y2="82.58"/>
<line x1="395.70" y1="96.18" x2="406.10" y2="85.78"/>
<line x1="395.70" y1="99.38" x2="406.10" y2="88.98"/>
<line x1="395.70" y1="102.58" x2="406.10" y2="92.18"/>
<line x1="395.70" y1="105.78" x2="406.10" y2="95.38"/>
<line x1="395.70" y1="108.98" x2="406.10" y2="98.58"/>
<line x1="395.70" y1="112.18" x2="406.10" y2="101.78"/>
<line x1="395.70" y1="115.38" x2="406.10" y2="104.98"/>
<line x1="395.70" y1="118.58" x2="406.10" y2="108.18"/>
<line x1="395.70" y1="121.78" x2="406.10" y2="111.38"/>
<line x1="395.70" y1="124.98" x2="406.10" y2="114.58"/>
<line x1="395.70" y1="128.18" x2="406.10" y2="117.78"/>
<line x1="395.70" y1="131.38" x2="406.10" y2="120.98"/>
</g>
<polyline points="396.70,66.88 404.60,66.88 404.60,112.80" fill="none" stroke="#111" stroke-width="1"/>
<line x1="392.50" y1="66.09" x2="392.50" y2="61.95" stroke="#111" stroke-width="1.0"/>
<line x1="390.80" y1="61.95" x2="394.20" y2="61.95" stroke="#111" stroke-width="1.0"/>
<line x1="400.90" y1="66.38" x2="400.90" y2="63.88" stroke="#111" stroke-width="1.0"/>
<line x1="399.20" y1="63.88" x2="402.60" y2="63.88" stroke="#111" stroke-width="1.0"/>
<rect x="424.10" y="111.64" width="8.40" height="1.16" fill="#111"/>
<clipPath id="hc4"><rect x="432.50" y="112.03" width="8.40" height="0.77"/></clipPath>
<rect x="432.50" y="112.03" width="8.40" height="0.77" fill="#fff"/>
<g clip-path="url(#hc4)" stroke="#111" stroke-width="1.3">
<line x1="431.50" y1="113.03" x2="441.90" y2="102.63"/>
<line x1="431.50" y1="116.23" x2="441.90" y2="105.83"/>
<line x1="431.50" y1="119.43" x2="441.90" y2="109.03"/>
<line x1="431.50" y1="122.63" x2="441.90" y2="112.23"/>
<line x1="431.50" y1="125.83" x2="441.90" y2="115.43"/>
<line x1="431.50" y1="129.03" x2="441.90" y2="118.63"/>
<line x1="431.50" y1="132.23" x2="441.90" y2="121.83"/>
</g>
<polyline points="432.50,112.53 440.40,112.53 440.40,112.80" fill="none" stroke="#111" stroke-width="1"/>
<line x1="428.30" y1="111.64" x2="428.30" y2="110.68" stroke="#111" stroke-width="1.0"/>
<line x1="426.60" y1="110.68" x2="430.00" y2="110.68" stroke="#111" stroke-width="1.0"/>
<rect x="444.30" y="106.06" width="8.40" height="6.74" fill="#111"/>
<clipPath id="hc5"><rect x="452.70" y="107.21" width="8.40" height="5.59"/></clipPath>
<rect x="452.70" y="107.21" width="8.40" height="5.59" fill="#fff"/>
<g clip-path="url(#hc5)" stroke="#111" stroke-width="1.3">
<line x1="451.70" y1="108.21" x2="462.10" y2="97.81"/>
<line x1="451.70" y1="111.41" x2="462.10" y2="101.01"/>
<line x1="451.70" y1="114.61" x2="462.10" y2="104.21"/>
<line x1="451.70" y1="117.81" x2="462.10" y2="107.41"/>
<line x1="451.70" y1="121.01" x2="462.10" y2="110.61"/>
<line x1="451.70" y1="124.21" x2="462.10" y2="113.81"/>
<line x1="451.70" y1="127.41" x2="462.10" y2="117.01"/>
<line x1="451.70" y1="130.61" x2="462.10" y2="120.21"/>
</g>
<polyline points="452.70,107.71 460.60,107.71 460.60,112.80" fill="none" stroke="#111" stroke-width="1"/>
<line x1="448.50" y1="106.06" x2="448.50" y2="103.36" stroke="#111" stroke-width="1.0"/>
<line x1="446.80" y1="103.36" x2="450.20" y2="103.36" stroke="#111" stroke-width="1.0"/>
<line x1="456.90" y1="107.21" x2="456.90" y2="106.06" stroke="#111" stroke-width="1.0"/>
<line x1="455.20" y1="106.06" x2="458.60" y2="106.06" stroke="#111" stroke-width="1.0"/>
<rect x="466.10" y="109.91" width="8.40" height="2.89" fill="#111"/>
<clipPath id="hc6"><rect x="474.50" y="110.30" width="8.40" height="2.50"/></clipPath>
<rect x="474.50" y="110.30" width="8.40" height="2.50" fill="#fff"/>
<g clip-path="url(#hc6)" stroke="#111" stroke-width="1.3">
<line x1="473.50" y1="111.30" x2="483.90" y2="100.90"/>
<line x1="473.50" y1="114.50" x2="483.90" y2="104.10"/>
<line x1="473.50" y1="117.70" x2="483.90" y2="107.30"/>
<line x1="473.50" y1="120.90" x2="483.90" y2="110.50"/>
<line x1="473.50" y1="124.10" x2="483.90" y2="113.70"/>
<line x1="473.50" y1="127.30" x2="483.90" y2="116.90"/>
<line x1="473.50" y1="130.50" x2="483.90" y2="120.10"/>
<line x1="473.50" y1="133.70" x2="483.90" y2="123.30"/>
</g>
<polyline points="474.50,110.80 482.40,110.80 482.40,112.80" fill="none" stroke="#111" stroke-width="1"/>
<line x1="470.30" y1="109.91" x2="470.30" y2="108.56" stroke="#111" stroke-width="1.0"/>
<line x1="468.60" y1="108.56" x2="472.00" y2="108.56" stroke="#111" stroke-width="1.0"/>
<line x1="478.70" y1="110.30" x2="478.70" y2="108.56" stroke="#111" stroke-width="1.0"/>
<line x1="477.00" y1="108.56" x2="480.40" y2="108.56" stroke="#111" stroke-width="1.0"/>
<rect x="495.50" y="25.17" width="8.40" height="87.63" fill="#111"/>
<clipPath id="hc7"><rect x="503.90" y="35.18" width="8.40" height="77.62"/></clipPath>
<rect x="503.90" y="35.18" width="8.40" height="77.62" fill="#fff"/>
<g clip-path="url(#hc7)" stroke="#111" stroke-width="1.3">
<line x1="502.90" y1="36.18" x2="513.30" y2="25.78"/>
<line x1="502.90" y1="39.38" x2="513.30" y2="28.98"/>
<line x1="502.90" y1="42.58" x2="513.30" y2="32.18"/>
<line x1="502.90" y1="45.78" x2="513.30" y2="35.38"/>
<line x1="502.90" y1="48.98" x2="513.30" y2="38.58"/>
<line x1="502.90" y1="52.18" x2="513.30" y2="41.78"/>
<line x1="502.90" y1="55.38" x2="513.30" y2="44.98"/>
<line x1="502.90" y1="58.58" x2="513.30" y2="48.18"/>
<line x1="502.90" y1="61.78" x2="513.30" y2="51.38"/>
<line x1="502.90" y1="64.98" x2="513.30" y2="54.58"/>
<line x1="502.90" y1="68.18" x2="513.30" y2="57.78"/>
<line x1="502.90" y1="71.38" x2="513.30" y2="60.98"/>
<line x1="502.90" y1="74.58" x2="513.30" y2="64.18"/>
<line x1="502.90" y1="77.78" x2="513.30" y2="67.38"/>
<line x1="502.90" y1="80.98" x2="513.30" y2="70.58"/>
<line x1="502.90" y1="84.18" x2="513.30" y2="73.78"/>
<line x1="502.90" y1="87.38" x2="513.30" y2="76.98"/>
<line x1="502.90" y1="90.58" x2="513.30" y2="80.18"/>
<line x1="502.90" y1="93.78" x2="513.30" y2="83.38"/>
<line x1="502.90" y1="96.98" x2="513.30" y2="86.58"/>
<line x1="502.90" y1="100.18" x2="513.30" y2="89.78"/>
<line x1="502.90" y1="103.38" x2="513.30" y2="92.98"/>
<line x1="502.90" y1="106.58" x2="513.30" y2="96.18"/>
<line x1="502.90" y1="109.78" x2="513.30" y2="99.38"/>
<line x1="502.90" y1="112.98" x2="513.30" y2="102.58"/>
<line x1="502.90" y1="116.18" x2="513.30" y2="105.78"/>
<line x1="502.90" y1="119.38" x2="513.30" y2="108.98"/>
<line x1="502.90" y1="122.58" x2="513.30" y2="112.18"/>
<line x1="502.90" y1="125.78" x2="513.30" y2="115.38"/>
<line x1="502.90" y1="128.98" x2="513.30" y2="118.58"/>
<line x1="502.90" y1="132.18" x2="513.30" y2="121.78"/>
</g>
<polyline points="503.90,35.68 511.80,35.68 511.80,112.80" fill="none" stroke="#111" stroke-width="1"/>
<line x1="499.70" y1="25.17" x2="499.70" y2="18.62" stroke="#111" stroke-width="1.0"/>
<line x1="498.00" y1="18.62" x2="501.40" y2="18.62" stroke="#111" stroke-width="1.0"/>
<line x1="508.10" y1="35.18" x2="508.10" y2="30.75" stroke="#111" stroke-width="1.0"/>
<line x1="506.40" y1="30.75" x2="509.80" y2="30.75" stroke="#111" stroke-width="1.0"/>
<text transform="translate(364.20,116.90) rotate(-90)" font-size="8.0" text-anchor="end" style="font-family:'Liberation Sans',sans-serif" fill="#111" stroke="#111" stroke-width="0.4">+vB35</text>
<text transform="translate(381.20,116.90) rotate(-90)" font-size="8.0" text-anchor="end" style="font-family:'Liberation Sans',sans-serif" fill="#111" stroke="#111" stroke-width="0.4">+vE3A</text>
<text transform="translate(396.10,116.90) rotate(-90)" font-size="8.0" text-anchor="end" style="font-family:'Liberation Sans',sans-serif" fill="#111" stroke="#111" stroke-width="0.4">+vB35</text>
<text transform="translate(403.50,116.90) rotate(-90)" font-size="8.0" text-anchor="end" style="font-family:'Liberation Sans',sans-serif" fill="#111" stroke="#111" stroke-width="0.4">+vE3A</text>
<text transform="translate(435.50,116.90) rotate(-90)" font-size="8.0" text-anchor="end" style="font-family:'Liberation Sans',sans-serif" fill="#111" stroke="#111" stroke-width="0.4">+vB35</text>
<text transform="translate(455.60,116.90) rotate(-90)" font-size="8.0" text-anchor="end" style="font-family:'Liberation Sans',sans-serif" fill="#111" stroke="#111" stroke-width="0.4">+vE3A</text>
<text transform="translate(473.50,116.90) rotate(-90)" font-size="8.0" text-anchor="end" style="font-family:'Liberation Sans',sans-serif" fill="#111" stroke="#111" stroke-width="0.4">+vB35</text>
<text transform="translate(481.30,116.90) rotate(-90)" font-size="8.0" text-anchor="end" style="font-family:'Liberation Sans',sans-serif" fill="#111" stroke="#111" stroke-width="0.4">+vE3A</text>
<text transform="translate(500.00,116.90) rotate(-90)" font-size="8.0" text-anchor="end" style="font-family:'Liberation Sans',sans-serif" fill="#111" stroke="#111" stroke-width="0.4">+vB35</text>
<text transform="translate(507.20,116.90) rotate(-90)" font-size="8.0" text-anchor="end" style="font-family:'Liberation Sans',sans-serif" fill="#111" stroke="#111" stroke-width="0.4">+vE3A</text>
<text transform="translate(514.90,116.90) rotate(-90)" font-size="8.0" text-anchor="end" style="font-family:'Liberation Sans',sans-serif" fill="#111" stroke="#111" stroke-width="0.4">+peptide</text>
<line x1="351.40" y1="179.60" x2="513.30" y2="179.60" stroke="#111" stroke-width="1.0"/>
<line x1="351.40" y1="179.60" x2="351.40" y2="275.30" stroke="#111" stroke-width="1.2"/>
<line x1="513.30" y1="179.60" x2="513.30" y2="275.30" stroke="#111" stroke-width="1.0"/>
<line x1="348.40" y1="275.30" x2="513.30" y2="275.30" stroke="#111" stroke-width="1.2"/>
<line x1="348.40" y1="256.16" x2="351.40" y2="256.16" stroke="#111" stroke-width="0.9"/>
<text x="344.00" y="259.16" font-size="8.5" text-anchor="end" style="font-family:'Liberation Sans',sans-serif" fill="#111" stroke="#111" stroke-width="0.4">10</text>
<line x1="348.40" y1="237.02" x2="351.40" y2="237.02" stroke="#111" stroke-width="0.9"/>
<text x="344.00" y="240.02" font-size="8.5" text-anchor="end" style="font-family:'Liberation Sans',sans-serif" fill="#111" stroke="#111" stroke-width="0.4">20</text>
<line x1="348.40" y1="217.88" x2="351.40" y2="217.88" stroke="#111" stroke-width="0.9"/>
<text x="344.00" y="220.88" font-size="8.5" text-anchor="end" style="font-family:'Liberation Sans',sans-serif" fill="#111" stroke="#111" stroke-width="0.4">30</text>
<line x1="348.40" y1="198.74" x2="351.40" y2="198.74" stroke="#111" stroke-width="0.9"/>
<text x="344.00" y="201.74" font-size="8.5" text-anchor="end" style="font-family:'Liberation Sans',sans-serif" fill="#111" stroke="#111" stroke-width="0.4">40</text>
<line x1="348.40" y1="179.60" x2="351.40" y2="179.60" stroke="#111" stroke-width="0.9"/>
<text x="344.00" y="182.60" font-size="8.5" text-anchor="end" style="font-family:'Liberation Sans',sans-serif" fill="#111" stroke="#111" stroke-width="0.4">50</text>
<line x1="348.90" y1="265.73" x2="351.40" y2="265.73" stroke="#111" stroke-width="0.9"/>
<line x1="348.90" y1="246.59" x2="351.40" y2="246.59" stroke="#111" stroke-width="0.9"/>
<line x1="348.90" y1="227.45" x2="351.40" y2="227.45" stroke="#111" stroke-width="0.9"/>
<line x1="348.90" y1="208.31" x2="351.40" y2="208.31" stroke="#111" stroke-width="0.9"/>
<line x1="348.90" y1="189.17" x2="351.40" y2="189.17" stroke="#111" stroke-width="0.9"/>
<rect x="369.70" y="270.32" width="8.40" height="4.98" fill="#111"/>
<line x1="373.90" y1="270.32" x2="373.90" y2="267.64" stroke="#111" stroke-width="1.0"/>
<line x1="372.20" y1="267.64" x2="375.60" y2="267.64" stroke="#111" stroke-width="1.0"/>
<rect x="388.30" y="200.08" width="8.40" height="75.22" fill="#111"/>
<clipPath id="hc8"><rect x="396.70" y="219.03" width="8.40" height="56.27"/></clipPath>
<rect x="396.70" y="219.03" width="8.40" height="56.27" fill="#fff"/>
<g clip-path="url(#hc8)" stroke="#111" stroke-width="1.3">
<line x1="395.70" y1="220.03" x2="406.10" y2="209.63"/>
<line x1="395.70" y1="223.23" x2="406.10" y2="212.83"/>
<line x1="395.70" y1="226.43" x2="406.10" y2="216.03"/>
<line x1="395.70" y1="229.63" x2="406.10" y2="219.23"/>
<line x1="395.70" y1="232.83" x2="406.10" y2="222.43"/>
<line x1="395.70" y1="236.03" x2="406.10" y2="225.63"/>
<line x1="395.70" y1="239.23" x2="406.10" y2="228.83"/>
<line x1="395.70" y1="242.43" x2="406.10" y2="232.03"/>
<line x1="395.70" y1="245.63" x2="406.10" y2="235.23"/>
<line x1="395.70" y1="248.83" x2="406.10" y2="238.43"/>
<line x1="395.70" y1="252.03" x2="406.10" y2="241.63"/>
<line x1="395.70" y1="255.23" x2="406.10" y2="244.83"/>
<line x1="395.70" y1="258.43" x2="406.10" y2="248.03"/>
<line x1="395.70" y1="261.63" x2="406.10" y2="251.23"/>
<line x1="395.70" y1="264.83" x2="406.10" y2="254.43"/>
<line x1="395.70" y1="268.03" x2="406.10" y2="257.63"/>
<line x1="395.70" y1="271.23" x2="406.10" y2="260.83"/>
<line x1="395.70" y1="274.43" x2="406.10" y2="264.03"/>
<line x1="395.70" y1="277.63" x2="406.10" y2="267.23"/>
<line x1="395.70" y1="280.83" x2="406.10" y2="270.43"/>
<line x1="395.70" y1="284.03" x2="406.10" y2="273.63"/>
<line x1="395.70" y1="287.23" x2="406.10" y2="276.83"/>
<line x1="395.70" y1="290.43" x2="406.10" y2="280.03"/>
<line x1="395.70" y1="293.63" x2="406.10" y2="283.23"/>
</g>
<polyline points="396.70,219.53 404.60,219.53 404.60,275.30" fill="none" stroke="#111" stroke-width="1"/>
<line x1="392.50" y1="200.08" x2="392.50" y2="193.19" stroke="#111" stroke-width="1.0"/>
<line x1="390.80" y1="193.19" x2="394.20" y2="193.19" stroke="#111" stroke-width="1.0"/>
<line x1="400.90" y1="219.03" x2="400.90" y2="210.42" stroke="#111" stroke-width="1.0"/>
<line x1="399.20" y1="210.42" x2="402.60" y2="210.42" stroke="#111" stroke-width="1.0"/>
<rect x="424.10" y="274.15" width="8.40" height="1.15" fill="#111"/>
<clipPath id="hc9"><rect x="432.50" y="274.53" width="8.40" height="0.77"/></clipPath>
<rect x="432.50" y="274.53" width="8.40" height="0.77" fill="#fff"/>
<g clip-path="url(#hc9)" stroke="#111" stroke-width="1.3">
<line x1="431.50" y1="275.53" x2="441.90" y2="265.13"/>
<line x1="431.50" y1="278.73" x2="441.90" y2="268.33"/>
<line x1="431.50" y1="281.93" x2="441.90" y2="271.53"/>
<line x1="431.50" y1="285.13" x2="441.90" y2="274.73"/>
<line x1="431.50" y1="288.33" x2="441.90" y2="277.93"/>
<line x1="431.50" y1="291.53" x2="441.90" y2="281.13"/>
<line x1="431.50" y1="294.73" x2="441.90" y2="284.33"/>
</g>
<polyline points="432.50,275.03 440.40,275.03 440.40,275.30" fill="none" stroke="#111" stroke-width="1"/>
<rect x="444.30" y="272.43" width="8.40" height="2.87" fill="#111"/>
<clipPath id="hc10"><rect x="452.70" y="273.00" width="8.40" height="2.30"/></clipPath>
<rect x="452.70" y="273.00" width="8.40" height="2.30" fill="#fff"/>
<g clip-path="url(#hc10)" stroke="#111" stroke-width="1.3">
<line x1="451.70" y1="274.00" x2="462.10" y2="263.60"/>
<line x1="451.70" y1="277.20" x2="462.10" y2="266.80"/>
<line x1="451.70" y1="280.40" x2="462.10" y2="270.00"/>
<line x1="451.70" y1="283.60" x2="462.10" y2="273.20"/>
<line x1="451.70" y1="286.80" x2="462.10" y2="276.40"/>
<line x1="451.70" y1="290.00" x2="462.10" y2="279.60"/>
<line x1="451.70" y1="293.20" x2="462.10" y2="282.80"/>
</g>
<polyline points="452.70,273.50 460.60,273.50 460.60,275.30" fill="none" stroke="#111" stroke-width="1"/>
<line x1="448.50" y1="272.43" x2="448.50" y2="269.18" stroke="#111" stroke-width="1.0"/>
<line x1="446.80" y1="269.18" x2="450.20" y2="269.18" stroke="#111" stroke-width="1.0"/>
<line x1="456.90" y1="273.00" x2="456.90" y2="272.24" stroke="#111" stroke-width="1.0"/>
<line x1="455.20" y1="272.24" x2="458.60" y2="272.24" stroke="#111" stroke-width="1.0"/>
<rect x="466.10" y="273.58" width="8.40" height="1.72" fill="#111"/>
<clipPath id="hc11"><rect x="474.50" y="273.77" width="8.40" height="1.53"/></clipPath>
<rect x="474.50" y="273.77" width="8.40" height="1.53" fill="#fff"/>
<g clip-path="url(#hc11)" stroke="#111" stroke-width="1.3">
<line x1="473.50" y1="274.77" x2="483.90" y2="264.37"/>
<line x1="473.50" y1="277.97" x2="483.90" y2="267.57"/>
<line x1="473.50" y1="281.17" x2="483.90" y2="270.77"/>
<line x1="473.50" y1="284.37" x2="483.90" y2="273.97"/>
<line x1="473.50" y1="287.57" x2="483.90" y2="277.17"/>
<line x1="473.50" y1="290.77" x2="483.90" y2="280.37"/>
<line x1="473.50" y1="293.97" x2="483.90" y2="283.57"/>
</g>
<polyline points="474.50,274.27 482.40,274.27 482.40,275.30" fill="none" stroke="#111" stroke-width="1"/>
<line x1="470.30" y1="273.58" x2="470.30" y2="272.43" stroke="#111" stroke-width="1.0"/>
<line x1="468.60" y1="272.43" x2="472.00" y2="272.43" stroke="#111" stroke-width="1.0"/>
<rect x="495.50" y="188.21" width="8.40" height="87.09" fill="#111"/>
<clipPath id="hc12"><rect x="503.90" y="250.23" width="8.40" height="25.07"/></clipPath>
<rect x="503.90" y="250.23" width="8.40" height="25.07" fill="#fff"/>
<g clip-path="url(#hc12)" stroke="#111" stroke-width="1.3">
<line x1="502.90" y1="251.23" x2="513.30" y2="240.83"/>
<line x1="502.90" y1="254.43" x2="513.30" y2="244.03"/>
<line x1="502.90" y1="257.63" x2="513.30" y2="247.23"/>
<line x1="502.90" y1="260.83" x2="513.30" y2="250.43"/>
<line x1="502.90" y1="264.03" x2="513.30" y2="253.63"/>
<line x1="502.90" y1="267.23" x2="513.30" y2="256.83"/>
<line x1="502.90" y1="270.43" x2="513.30" y2="260.03"/>
<line x1="502.90" y1="273.63" x2="513.30" y2="263.23"/>
<line x1="502.90" y1="276.83" x2="513.30" y2="266.43"/>
<line x1="502.90" y1="280.03" x2="513.30" y2="269.63"/>
<line x1="502.90" y1="283.23" x2="513.30" y2="272.83"/>
<line x1="502.90" y1="286.43" x2="513.30" y2="276.03"/>
<line x1="502.90" y1="289.63" x2="513.30" y2="279.23"/>
<line x1="502.90" y1="292.83" x2="513.30" y2="282.43"/>
<line x1="502.90" y1="296.03" x2="513.30" y2="285.63"/>
</g>
<polyline points="503.90,250.73 511.80,250.73 511.80,275.30" fill="none" stroke="#111" stroke-width="1"/>
<line x1="499.70" y1="188.21" x2="499.70" y2="185.53" stroke="#111" stroke-width="1.0"/>
<line x1="498.00" y1="185.53" x2="501.40" y2="185.53" stroke="#111" stroke-width="1.0"/>
<line x1="508.10" y1="250.23" x2="508.10" y2="241.81" stroke="#111" stroke-width="1.0"/>
<line x1="506.40" y1="241.81" x2="509.80" y2="241.81" stroke="#111" stroke-width="1.0"/>
<text transform="translate(364.20,280.70) rotate(-90)" font-size="8.0" text-anchor="end" style="font-family:'Liberation Sans',sans-serif" fill="#111" stroke="#111" stroke-width="0.4">+vA2</text>
<text transform="translate(381.20,280.70) rotate(-90)" font-size="8.0" text-anchor="end" style="font-family:'Liberation Sans',sans-serif" fill="#111" stroke="#111" stroke-width="0.4">+vLMP2</text>
<text transform="translate(396.10,280.70) rotate(-90)" font-size="8.0" text-anchor="end" style="font-family:'Liberation Sans',sans-serif" fill="#111" stroke="#111" stroke-width="0.4">+vA2</text>
<text transform="translate(403.50,280.70) rotate(-90)" font-size="8.0" text-anchor="end" style="font-family:'Liberation Sans',sans-serif" fill="#111" stroke="#111" stroke-width="0.4">+vLMP2</text>
<text transform="translate(435.50,280.70) rotate(-90)" font-size="8.0" text-anchor="end" style="font-family:'Liberation Sans',sans-serif" fill="#111" stroke="#111" stroke-width="0.4">+vA2</text>
<text transform="translate(455.60,280.70) rotate(-90)" font-size="8.0" text-anchor="end" style="font-family:'Liberation Sans',sans-serif" fill="#111" stroke="#111" stroke-width="0.4">+vLMP2</text>
<text transform="translate(473.50,280.70) rotate(-90)" font-size="8.0" text-anchor="end" style="font-family:'Liberation Sans',sans-serif" fill="#111" stroke="#111" stroke-width="0.4">+vA2</text>
<text transform="translate(481.30,280.70) rotate(-90)" font-size="8.0" text-anchor="end" style="font-family:'Liberation Sans',sans-serif" fill="#111" stroke="#111" stroke-width="0.4">+vLMP2</text>
<text transform="translate(500.00,280.70) rotate(-90)" font-size="8.0" text-anchor="end" style="font-family:'Liberation Sans',sans-serif" fill="#111" stroke="#111" stroke-width="0.4">+vA2</text>
<text transform="translate(507.20,280.70) rotate(-90)" font-size="8.0" text-anchor="end" style="font-family:'Liberation Sans',sans-serif" fill="#111" stroke="#111" stroke-width="0.4">+vLMP2</text>
<text transform="translate(514.90,280.70) rotate(-90)" font-size="8.0" text-anchor="end" style="font-family:'Liberation Sans',sans-serif" fill="#111" stroke="#111" stroke-width="0.4">+peptide</text>
<text transform="translate(323.60,64.60) rotate(-90)" font-size="10.6" text-anchor="middle" style="font-family:'Liberation Sans',sans-serif" fill="#111" stroke="#111" stroke-width="0.4">% specific lysis</text>
<text transform="translate(323.60,222.40) rotate(-90)" font-size="10.6" text-anchor="middle" style="font-family:'Liberation Sans',sans-serif" fill="#111" stroke="#111" stroke-width="0.4">% specific lysis</text>
<polyline points="352.30,146.30 352.30,152.30 406.20,152.30 406.20,146.30" fill="none" stroke="#111" stroke-width="1"/>
<polyline points="423.80,145.80 423.80,152.30 518.50,152.30 518.50,145.80" fill="none" stroke="#111" stroke-width="1"/>
<text x="380.20" y="162.90" font-size="8.8" text-anchor="middle" style="font-family:'Liberation Sans',sans-serif" fill="#111" stroke="#111" stroke-width="0.4">Mismatched LCL</text>
<text x="468.30" y="164.20" font-size="8.8" text-anchor="middle" style="font-family:'Liberation Sans',sans-serif" fill="#111" stroke="#111" stroke-width="0.4">L428</text>
<polyline points="352.30,308.70 352.30,314.60 406.40,314.60 406.40,308.70" fill="none" stroke="#111" stroke-width="1"/>
<polyline points="424.10,308.90 424.10,314.50 518.70,314.50 518.70,308.90" fill="none" stroke="#111" stroke-width="1"/>
<text x="380.30" y="325.50" font-size="8.8" text-anchor="middle" style="font-family:'Liberation Sans',sans-serif" fill="#111" stroke="#111" stroke-width="0.4">Mismatched LCL</text>
<text x="468.80" y="326.00" font-size="8.8" text-anchor="middle" style="font-family:'Liberation Sans',sans-serif" fill="#111" stroke="#111" stroke-width="0.4">L428</text>
</svg>
</body></html>
